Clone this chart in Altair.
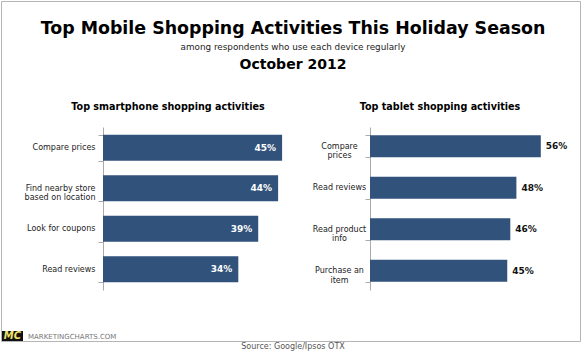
import altair as alt
import pandas as pd

# ---- data ----
phone_cats = ["Compare prices", "Find nearby store|based on location", "Look for coupons", "Read reviews"]
phone_vals = [45, 44, 39, 34]
tablet_cats = ["Compare|prices", "Read reviews", "Read product|info", "Purchase an|item"]
tablet_vals = [56, 48, 46, 45]

title_main = "Top Mobile Shopping Activities This Holiday Season"
title_sub = "among respondents who use each device regularly"
title_date = "October 2012"
phone_title = "Top smartphone shopping activities"
tablet_title = "Top tablet shopping activities"
source_text = "Source: Google/Ipsos OTX"
brand_text = "MARKETINGCHARTS.COM"

FONT = "DejaVu Sans"
BAR = "#31527b"

phone_df = pd.DataFrame({"cat": phone_cats, "v": phone_vals})
tablet_df = pd.DataFrame({"cat": tablet_cats, "v": tablet_vals})


def axis_y(offset, align, pad):
    return alt.Axis(
        orient="left", offset=offset, title=None,
        labelExpr="split(datum.label, '|')", labelAlign=align, labelPadding=pad,
        labelFont=FONT, labelFontSize=8, labelColor="#222", labelLineHeight=9.5,
        labelLimit=300, tickSize=5, tickBand="extent",
        domainColor="#aaaaaa", tickColor="#aaaaaa", grid=False,
    )


# left panel
py = alt.Y("cat:N", sort=phone_cats,
           scale=alt.Scale(range=[127, 290], paddingInner=0.36, paddingOuter=0.19),
           axis=axis_y(-103, "right", 3))
px = alt.X("v:Q", scale=alt.Scale(domain=[0, 50], range=[103, 302]), axis=None)
phone_base = alt.Chart(phone_df).transform_calculate(lab="datum.v + '%'")
phone_bars = phone_base.mark_bar(color=BAR).encode(x=px, y=py)
phone_text = phone_base.mark_text(align="right", dx=-6, color="white", font=FONT,
                                  fontWeight="bold", fontSize=9).encode(x=px, y=py, text="lab:N")
phone_layer = alt.layer(phone_bars, phone_text)

# right panel
ty = alt.Y("cat:N", sort=tablet_cats,
           scale=alt.Scale(range=[127, 290], paddingInner=0.47, paddingOuter=0.2),
           axis=axis_y(-370, "center", 26))
tx = alt.X("v:Q", scale=alt.Scale(domain=[0, 60], range=[370, 553]), axis=None)
tablet_base = alt.Chart(tablet_df).transform_calculate(lab="datum.v + '%'")
tablet_bars = tablet_base.mark_bar(color=BAR).encode(x=tx, y=ty)
tablet_text = tablet_base.mark_text(align="left", dx=5, color="#111", font=FONT,
                                    fontWeight="bold", fontSize=9).encode(x=tx, y=ty, text="lab:N")
tablet_layer = alt.layer(tablet_bars, tablet_text)

one = alt.Data(values=[{"k": 1}])


def label(text, x, y, size, weight="normal", color="#000", align="center", font=FONT, **kw):
    return alt.Chart(one).mark_text(text=text, align=align, baseline="middle", fontSize=size,
                                    fontWeight=weight, color=color, font=font, **kw).encode(
        x=alt.value(x), y=alt.value(y))


frame = alt.Chart(one).mark_rect(fill="transparent", stroke="#b5b5b5", strokeWidth=1).encode(
    x=alt.value(1.5), x2=alt.value(580.5), y=alt.value(1.5), y2=alt.value(341.5))
logo = alt.Chart(one).mark_rect(color="#111").encode(
    x=alt.value(2), x2=alt.value(23), y=alt.value(331), y2=alt.value(341))

decor = [
    frame,
    label(title_main, 293, 29, 17.4, "bold"),
    label(title_sub, 293, 47, 8.8, color="#222"),
    label(title_date, 293, 65, 14, "bold"),
    label(phone_title, 168, 107, 9.6, "bold"),
    label(tablet_title, 440, 107, 9.6, "bold"),
    logo,
    label("MC", 12.5, 336, 10, "bold", color="#f0e36a", fontStyle="italic"),
    label(brand_text, 28, 337, 7, color="#777", align="left"),
    label(source_text, 293, 347, 8, color="#555"),
]

chart = alt.layer(phone_layer, tablet_layer, *decor).resolve_scale(
    x="independent", y="independent"
).properties(
    width=585, height=354, autosize=alt.AutoSizeParams(type="none"), padding=0,
    background="white",
).configure_view(stroke=None)

chart.save("out.html", embed_options={"renderer": "svg", "actions": False})
